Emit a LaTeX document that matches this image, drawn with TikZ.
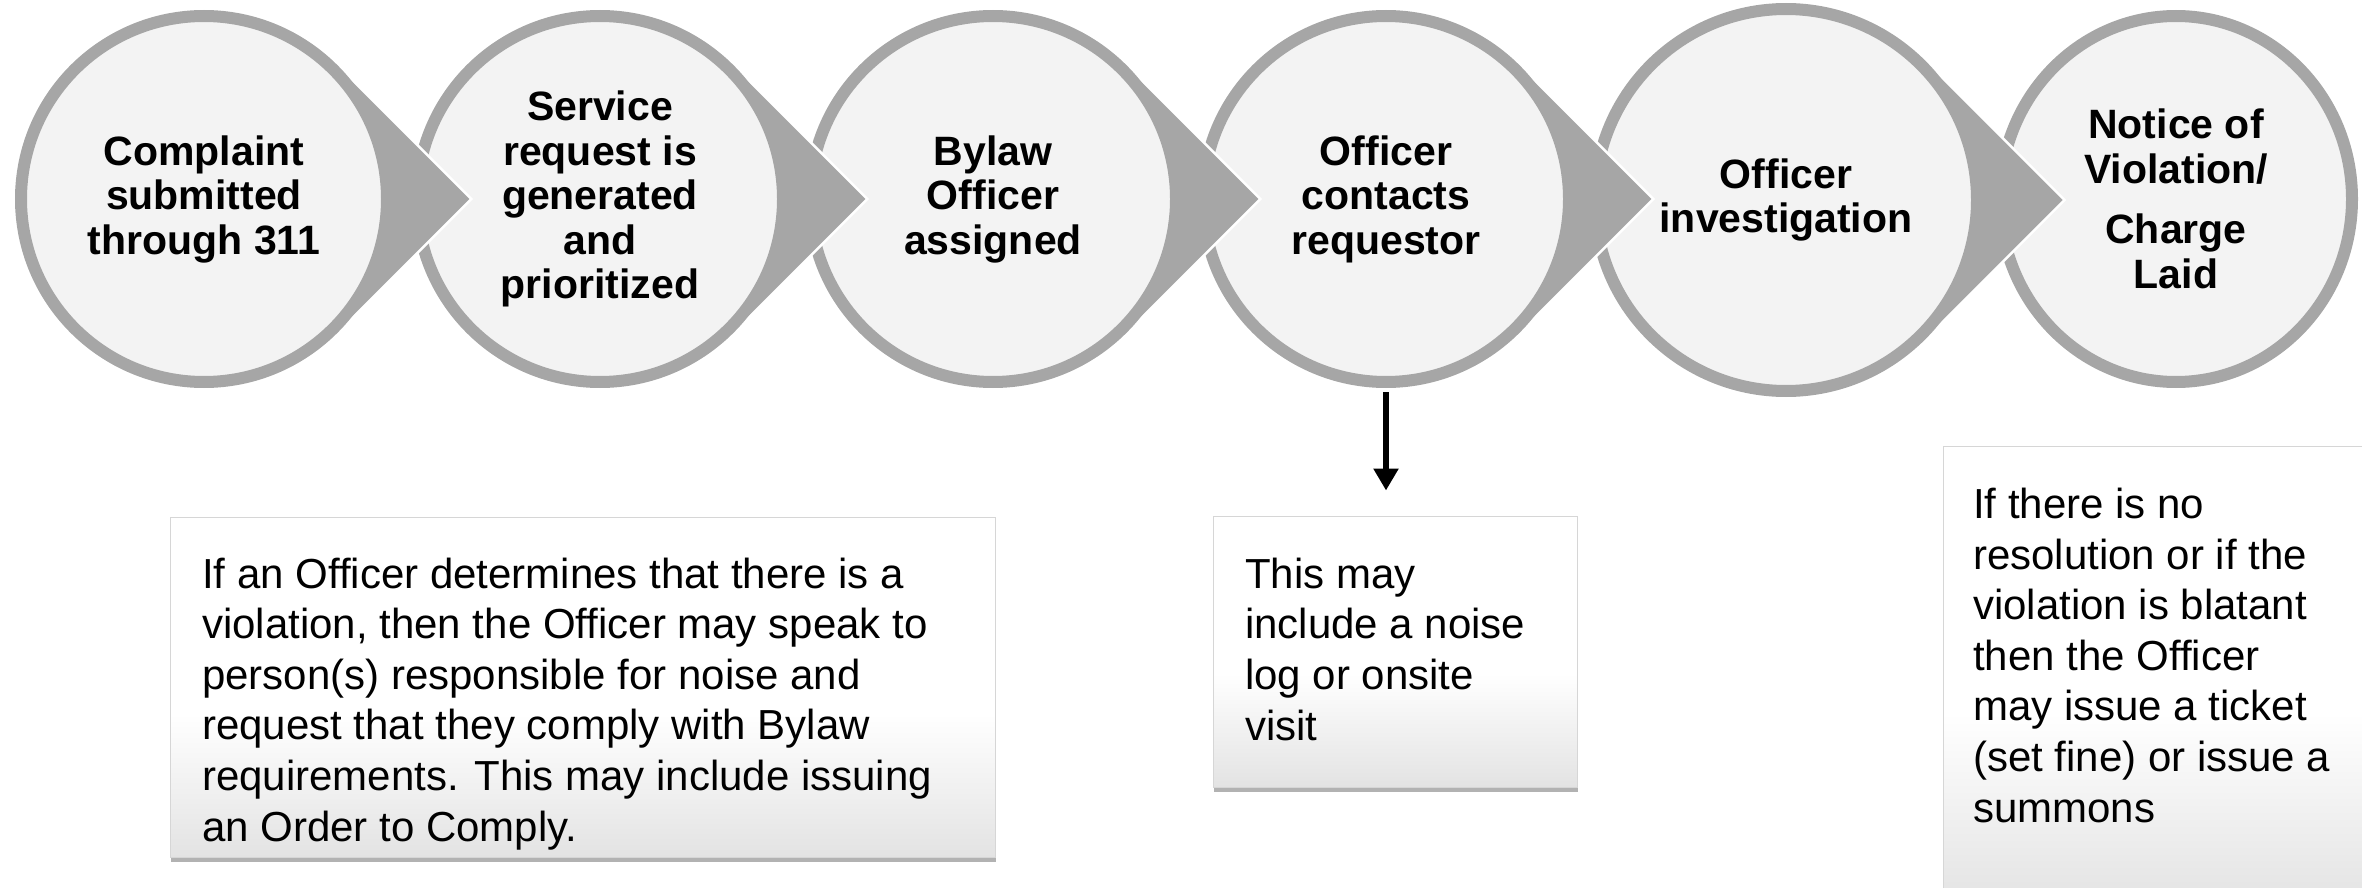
\documentclass[tikz,border=0pt]{standalone}
\usepackage{fontspec}
\setmainfont{Liberation Sans}
\usetikzlibrary{arrows.meta,shapes.geometric,shadows,calc}
\definecolor{ring}{HTML}{A6A6A6}
\definecolor{disc}{HTML}{F3F3F3}
\definecolor{boxline}{HTML}{D6D6D6}
\pgfdeclareverticalshading{boxshade}{100bp}{color(0bp)=(black!11); color(25bp)=(black!11); color(46bp)=(white); color(100bp)=(white)}
\tikzset{
  stepdisc/.style={circle, draw=ring, fill=disc, line width=12pt, inner sep=0pt, outer sep=6pt,
    minimum size=#1, align=center, text=black, font=\bfseries\fontsize{41}{44.5}\selectfont},
  stepoval/.style={ellipse, draw=ring, fill=disc, line width=12pt, inner sep=0pt, outer sep=6pt,
    align=center, text=black, font=\bfseries\fontsize{41}{44.5}\selectfont},
  pointfill/.style={fill=ring},
  pointedge/.style={draw=white, line width=2.5pt, line join=miter},
  notebox/.style={rectangle, draw=boxline, line width=1pt, shade, shading=boxshade, inner sep=0pt,
    drop shadow={shadow xshift=1pt, shadow yshift=-5pt, opacity=0.3, fill=black}},
  notetext/.style={anchor=base west, align=left, inner sep=0pt, text=black, font=\fontsize{42}{50.6}\selectfont},
  downarrow/.style={-{Triangle[width=24pt,length=22pt]}, line width=6pt, black}
}
\begin{document}
\begin{tikzpicture}[x=1pt,y=-1pt]
\useasboundingbox (0,0) rectangle (2362,888);
\clip (0,0) rectangle (2362,888);
% centres
\coordinate (p1) at (204,199);
\coordinate (p2) at (600,199);
\coordinate (p3) at (993,199);
\coordinate (p4) at (1386,199);
\coordinate (p5) at (1786,200);
\coordinate (p6) at (2176,199);

% step 6
\node[stepoval, minimum width=352pt, minimum height=366pt] (c6) at (p6)
  {Notice of\\Violation/\\[16pt]Charge\\Laid};
% step 5
\fill[pointfill] ($(p5)+(-45:197)$) -- ($(p5)+(278.6,0)$) -- ($(p5)+(45:197)$) -- cycle;
\draw[pointedge] ($(p5)+(-45:197)$) -- ($(p5)+(278.6,0)$) -- ($(p5)+(45:197)$);
\node[stepdisc=382pt] (c5) at (p5) {Officer\\investigation};
% step 4
\fill[pointfill] ($(p4)+(-45:189)$) -- ($(p4)+(267.3,0)$) -- ($(p4)+(45:189)$) -- cycle;
\draw[pointedge] ($(p4)+(-45:189)$) -- ($(p4)+(267.3,0)$) -- ($(p4)+(45:189)$);
\node[stepdisc=366pt] (c4) at (p4) {Officer\\contacts\\requestor};
% step 3
\fill[pointfill] ($(p3)+(-45:189)$) -- ($(p3)+(267.3,0)$) -- ($(p3)+(45:189)$) -- cycle;
\draw[pointedge] ($(p3)+(-45:189)$) -- ($(p3)+(267.3,0)$) -- ($(p3)+(45:189)$);
\node[stepdisc=366pt] (c3) at (p3) {Bylaw\\Officer\\assigned};
% step 2
\fill[pointfill] ($(p2)+(-45:189)$) -- ($(p2)+(267.3,0)$) -- ($(p2)+(45:189)$) -- cycle;
\draw[pointedge] ($(p2)+(-45:189)$) -- ($(p2)+(267.3,0)$) -- ($(p2)+(45:189)$);
\node[stepdisc=366pt] (c2) at (p2) {Service\\request is\\generated\\and\\prioritized};
% step 1
\fill[pointfill] ($(p1)+(-45:189)$) -- ($(p1)+(267.3,0)$) -- ($(p1)+(45:189)$) -- cycle;
\draw[pointedge] ($(p1)+(-45:189)$) -- ($(p1)+(267.3,0)$) -- ($(p1)+(45:189)$);
\node[stepdisc=366pt] (c1) at (p1) {Complaint\\submitted\\through 311};

% note boxes (text anchored at the baseline of its last line)
\node[notebox, minimum width=825pt, minimum height=340pt] (b1) at (582.5,687) {};
\node[notetext] (t1) at (202,841) {If an Officer determines that there is a\\violation, then the Officer may speak to\\person(s) responsible for noise and\\request that they comply with Bylaw\\requirements. This may include issuing\\an Order to Comply.};

\node[notebox, minimum width=364pt, minimum height=271pt] (b2) at (1395,651.5) {};
\node[notetext] (t2) at (1245,740) {This may\\include a noise\\log or onsite\\visit};

\node[notebox, minimum width=440pt, minimum height=460pt] (b3) at (2163,676) {};
\node[notetext] (t3) at (1973,822) {If there is no\\resolution or if the\\violation is blatant\\then the Officer\\may issue a ticket\\(set fine) or issue a\\summons};

% arrow
\draw[downarrow, shorten <=4pt, shorten >=25pt] (c4.south) -- (c4.south |- b2.north);
\end{tikzpicture}
\end{document}
